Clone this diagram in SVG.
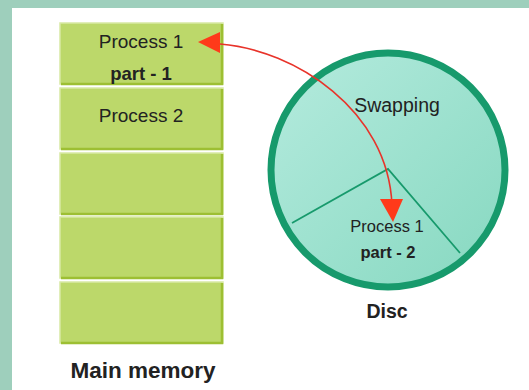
<svg xmlns="http://www.w3.org/2000/svg" width="529" height="390" viewBox="0 0 529 390">
<defs>
<linearGradient id="disc" x1="0" y1="0" x2="1" y2="1">
<stop offset="0" stop-color="#b5ebde"/>
<stop offset="1" stop-color="#86d8c0"/>
</linearGradient>
</defs>
<style>
.box{fill:#bcd86a;stroke:#d8e9a4;stroke-width:1.5}
.edge{fill:none;stroke:#9dbf33;stroke-width:2.5}
.t{font-family:"Liberation Sans",Arial,sans-serif;fill:#222;text-anchor:middle}
.b{font-weight:bold}
.head{fill:#ff3a1a}
</style>
<rect x="0" y="0" width="529" height="390" fill="#9ecfbc"/>
<rect x="12" y="8" width="517" height="382" fill="#ffffff"/>

<g id="mem1">
<rect class="box" x="60" y="23" width="163" height="61"/>
<polyline class="edge" points="61,84 222,84 222,24"/>
<text class="t" x="141" y="48" font-size="19">Process 1</text>
<text class="t b" x="141" y="80" font-size="18.5">part - 1</text>
</g>
<g id="mem2">
<rect class="box" x="60" y="88" width="163" height="61"/>
<polyline class="edge" points="61,149 222,149 222,89"/>
<text class="t" x="141" y="122" font-size="19">Process 2</text>
</g>
<g id="mem3">
<rect class="box" x="60" y="153" width="163" height="61"/>
<polyline class="edge" points="61,214 222,214 222,154"/>
</g>
<g id="mem4">
<rect class="box" x="60" y="217" width="163" height="61"/>
<polyline class="edge" points="61,278 222,278 222,218"/>
</g>
<g id="mem5">
<rect class="box" x="60" y="282" width="163" height="61"/>
<polyline class="edge" points="61,343 222,343 222,283"/>
</g>
<text class="t b" x="143" y="378" font-size="22.5">Main memory</text>

<g id="disc">
<circle cx="388" cy="170" r="117" fill="url(#disc)" stroke="#179a6c" stroke-width="7"/>
<polyline points="292,223 388,169 460,253" fill="none" stroke="#179a6c" stroke-width="1.8"/>
<text class="t" x="397" y="112" font-size="19.5">Swapping</text>
<text class="t" x="387" y="232" font-size="16.5">Process 1</text>
<text class="t b" x="388" y="258" font-size="16.5">part - 2</text>
</g>
<text class="t b" x="387" y="318" font-size="19.5">Disc</text>

<g id="connectors">
<path d="M210,43 L220,44 C295,50 388,110 392,205" fill="none" stroke="#e8332a" stroke-width="1.6"/>
<path class="head" d="M220,32 L198,42 L220,53 Z"/>
<path class="head" d="M380,199 L403,199 L393,222 Z"/>
</g>
</svg>
